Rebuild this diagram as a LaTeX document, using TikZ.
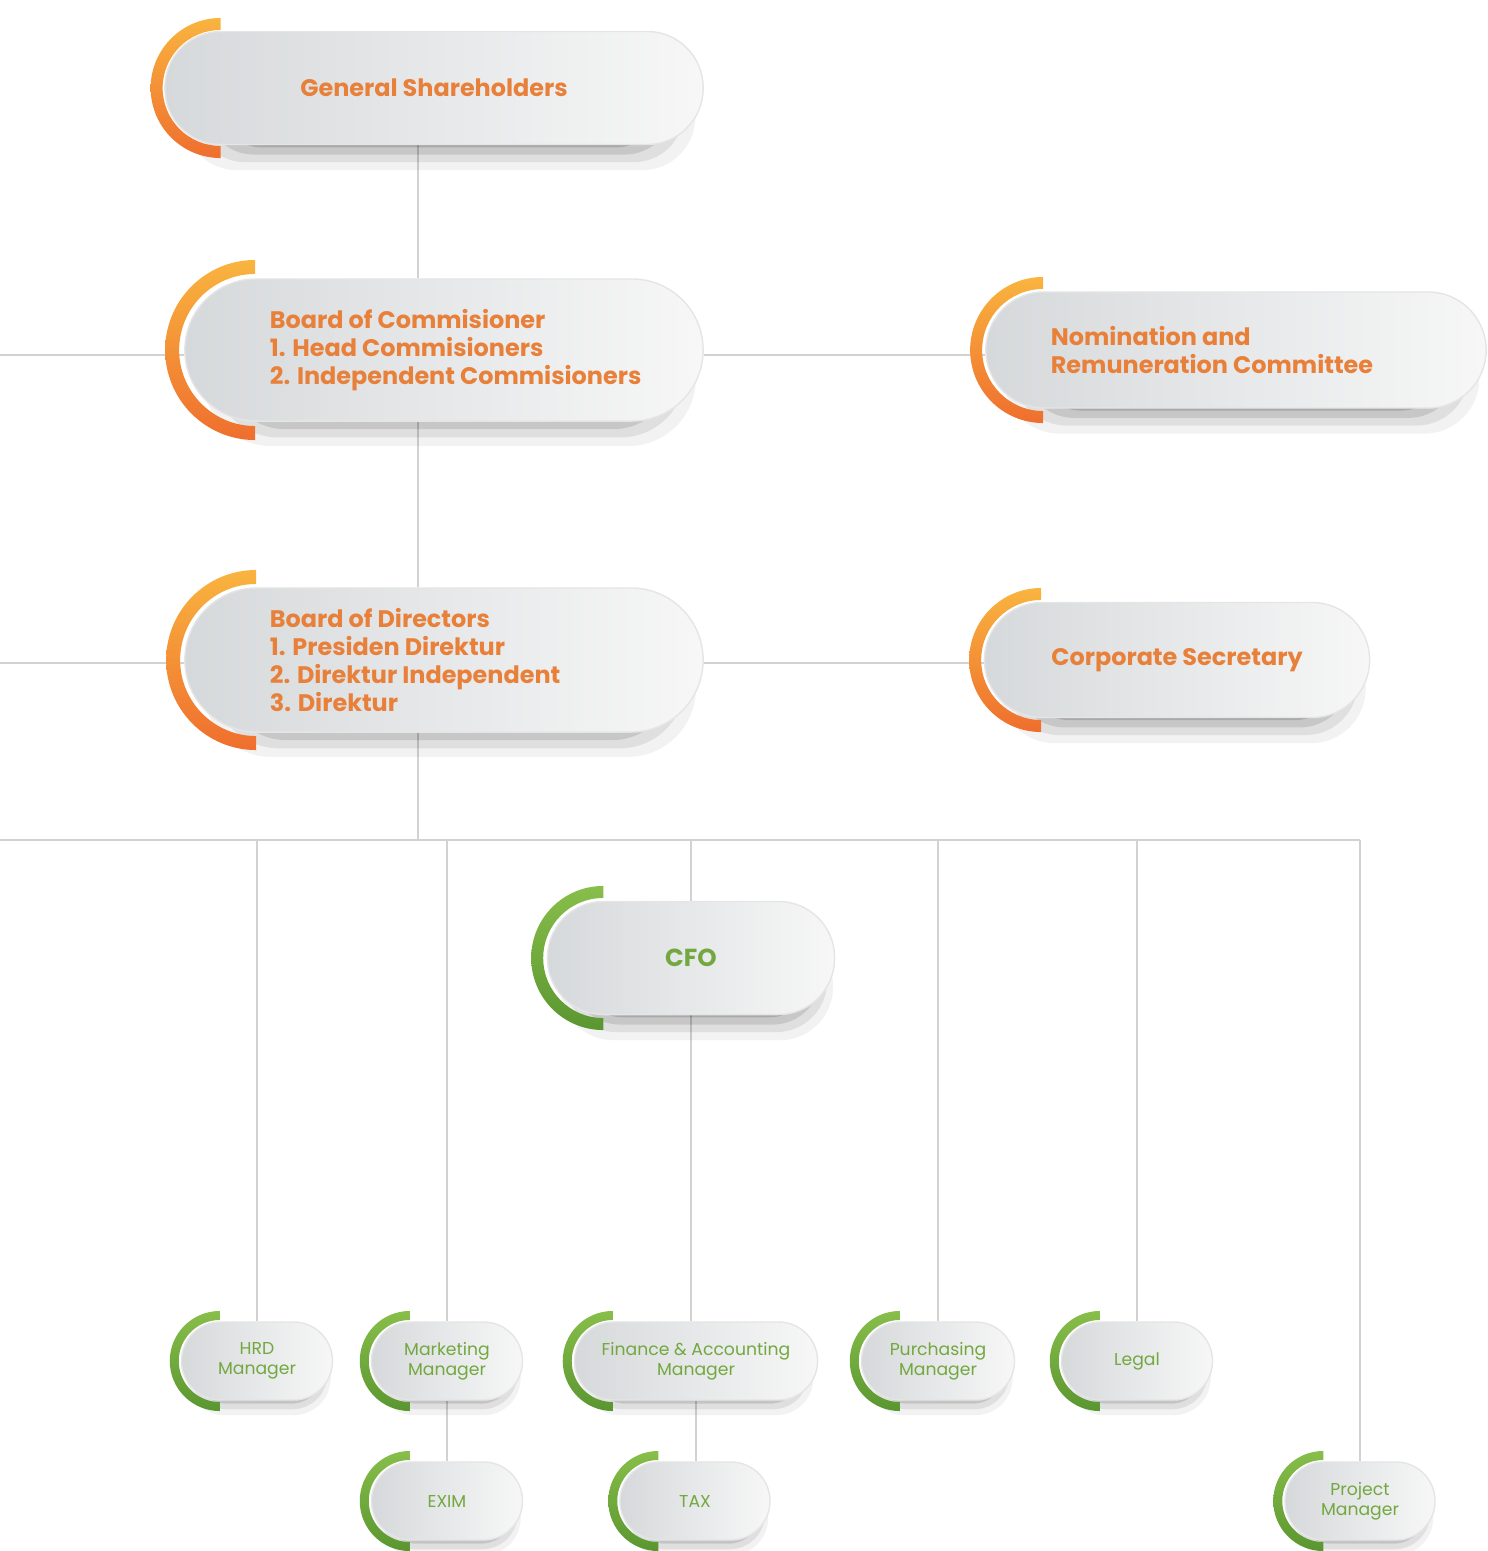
\documentclass[tikz,border=0pt]{standalone}
\usepackage{fontspec}
\setmainfont{Poppins}
\usetikzlibrary{positioning, calc, shadows, backgrounds}
\definecolor{orgtxt}{HTML}{E8803A}
\definecolor{orgtop}{HTML}{F9B43F}
\definecolor{orgbot}{HTML}{EF6E2E}
\definecolor{grntxt}{HTML}{72A83F}
\definecolor{grntop}{HTML}{88BE4A}
\definecolor{grnbot}{HTML}{5A9630}
\definecolor{linegray}{HTML}{D2D2D2}
\definecolor{pillL}{HTML}{D6D9DB}
\definecolor{pillR}{HTML}{F7F7F7}
\tikzstyle{pill} = [rectangle, draw=black!10, left color=pillL, right color=pillR, inner sep=0pt, align=center]
\tikzstyle{conn} = [linegray, line width=0.6pt]
\tikzstyle{bigtxt} = [font=\fontsize{6.8}{8}\selectfont\bfseries, text=orgtxt, align=left, inner sep=0pt]
\tikzstyle{smalltxt} = [font=\fontsize{4.9}{5.7}\selectfont, text=grntxt]
\tikzstyle{orgarc} = [top color=orgtop, bottom color=orgbot]
\tikzstyle{grnarc} = [top color=grntop, bottom color=grnbot]
% coloured half ring on the left of a pill: node, half height, outer radius, thickness, shade
\newcommand{\sidearc}[5]{%
  \path[#5] ($(#1.west)+(#2,#3)$) arc[start angle=90, end angle=270, radius=#3]
    -- ++(0,#4) arc[start angle=270, end angle=90, radius={#3-#4}] -- cycle;}

\begin{document}
\begin{tikzpicture}[
    x=0.01cm, y=0.01cm,
    bigshadow/.style={
      general shadow={fill=black, opacity=0.05, shadow xshift=0.06cm, shadow yshift=-0.30cm, shadow scale=0.95},
      general shadow={fill=black, opacity=0.08, shadow xshift=0.06cm, shadow yshift=-0.25cm, shadow scale=0.91},
      general shadow={fill=black, opacity=0.11, shadow xshift=0.06cm, shadow yshift=-0.20cm, shadow scale=0.87},
      general shadow={fill=black, opacity=0.15, shadow xshift=0.06cm, shadow yshift=-0.15cm, shadow scale=0.83}},
    smallshadow/.style={
      general shadow={fill=black, opacity=0.05, shadow xshift=0.02cm, shadow yshift=-0.18cm, shadow scale=0.95},
      general shadow={fill=black, opacity=0.08, shadow xshift=0.02cm, shadow yshift=-0.14cm, shadow scale=0.91},
      general shadow={fill=black, opacity=0.12, shadow xshift=0.02cm, shadow yshift=-0.10cm, shadow scale=0.87}},
    bigpill/.style={pill, bigshadow, rounded corners=#1},
    smallpill/.style={pill, smallshadow, rounded corners=0.39cm, minimum height=0.78cm}
  ]
  \useasboundingbox (0,0) rectangle (1487,-1551);

  % Top of the chart
  \node[bigpill=0.56cm, minimum width=5.38cm, minimum height=1.13cm] (gs) at (434,-88)
    {\fontsize{6.8}{8}\selectfont\bfseries\color{orgtxt}General Shareholders};
  \node[bigpill=0.71cm, minimum width=5.18cm, minimum height=1.42cm] (boc) at (444,-350) {};
  \node[bigtxt, anchor=west] (boctxt) at ([xshift=0.85cm]boc.west)
    {Board of Commisioner\\1. Head Commisioners\\2. Independent Commisioners};
  \node[bigpill=0.58cm, minimum width=5.0cm, minimum height=1.16cm] (nom) at (1236,-350) {};
  \node[bigtxt, anchor=west] (nomtxt) at ([xshift=0.65cm]nom.west)
    {Nomination and\\Remuneration Committee};

  % Directors
  \node[bigpill=0.72cm, minimum width=5.18cm, minimum height=1.44cm] (bod) at (444,-660) {};
  \node[bigtxt, anchor=west] (bodtxt) at ([xshift=0.85cm]bod.west)
    {Board of Directors\\1. Presiden Direktur\\2. Direktur Independent\\3. Direktur};
  \node[bigpill=0.575cm, minimum width=3.85cm, minimum height=1.15cm] (cs) at (1177,-660)
    {\fontsize{6.8}{8}\selectfont\bfseries\color{orgtxt}Corporate Secretary};

  % CFO and managers
  \node[bigpill=0.56cm, minimum width=2.87cm, minimum height=1.13cm] (cfo) at (691,-958)
    {\fontsize{7}{8}\selectfont\bfseries\color{grntxt}CFO};
  \node[smallpill, minimum width=1.51cm, smalltxt] (hrd) at (257,-1361) {HRD\\Manager};
  \node[smallpill, minimum width=1.51cm, smalltxt] (mkt) at (447,-1361) {Marketing\\Manager};
  \node[smallpill, minimum width=2.43cm, smalltxt] (fin) at (696,-1361) {Finance \& Accounting\\Manager};
  \node[smallpill, minimum width=1.53cm, smalltxt] (pur) at (938,-1361) {Purchasing\\Manager};
  \node[smallpill, minimum width=1.51cm, smalltxt] (leg) at (1137,-1361) {Legal};
  \node[smallpill, minimum width=1.51cm, smalltxt] (exim) at (447,-1501) {EXIM};
  \node[smallpill, minimum width=1.50cm, smalltxt] (tax) at (695,-1501) {TAX};
  \node[smallpill, minimum width=1.50cm, smalltxt] (pm) at (1360,-1501) {Project\\Manager};

  % Half rings
  \sidearc{gs}{0.565cm}{0.70cm}{0.12cm}{orgarc}
  \sidearc{boc}{0.71cm}{0.90cm}{0.14cm}{orgarc}
  \sidearc{bod}{0.72cm}{0.90cm}{0.14cm}{orgarc}
  \sidearc{nom}{0.58cm}{0.73cm}{0.12cm}{orgarc}
  \sidearc{cs}{0.575cm}{0.72cm}{0.12cm}{orgarc}
  \sidearc{cfo}{0.565cm}{0.72cm}{0.12cm}{grnarc}
  \foreach \n in {hrd, mkt, fin, pur, leg, exim, tax, pm}
    \sidearc{\n}{0.39cm}{0.50cm}{0.09cm}{grnarc};

  % Connectors
  \coordinate (spine) at (418,0);
  \coordinate (edge) at (0,0);
  \coordinate (bus) at (0,-840);
  \begin{scope}[on background layer]
    \draw[conn] (gs.south -| spine) -- (boc.north -| spine);
    \draw[conn] (boc.south -| spine) -- (bod.north -| spine);
    \draw[conn] (bod.south -| spine) -- (bus -| spine);
    \draw[conn] ([yshift=-0.05cm]boc.west -| edge) -- ([yshift=-0.05cm]boc.west);
    \draw[conn] ([yshift=-0.03cm]bod.west -| edge) -- ([yshift=-0.03cm]bod.west);
    \draw[conn] ([yshift=-0.05cm]boc.east) -- ([yshift=-0.05cm]nom.west);
    \draw[conn] ([yshift=-0.03cm]bod.east) -- ([yshift=-0.03cm]cs.west);
    \draw[conn] (bus) -- (bus -| pm.north);
    \foreach \n in {hrd, mkt, pur, leg, pm}
      \draw[conn] (bus -| \n.north) -- (\n.north);
    \draw[conn] (bus -| cfo.north) -- (cfo.north);
    \draw[conn] (cfo.south) -- (cfo.south |- fin.north);
    \draw[conn] (mkt.south) -- (exim.north);
    \draw[conn] (fin.south) -- (fin.south |- tax.north);
  \end{scope}
\end{tikzpicture}
\end{document}
